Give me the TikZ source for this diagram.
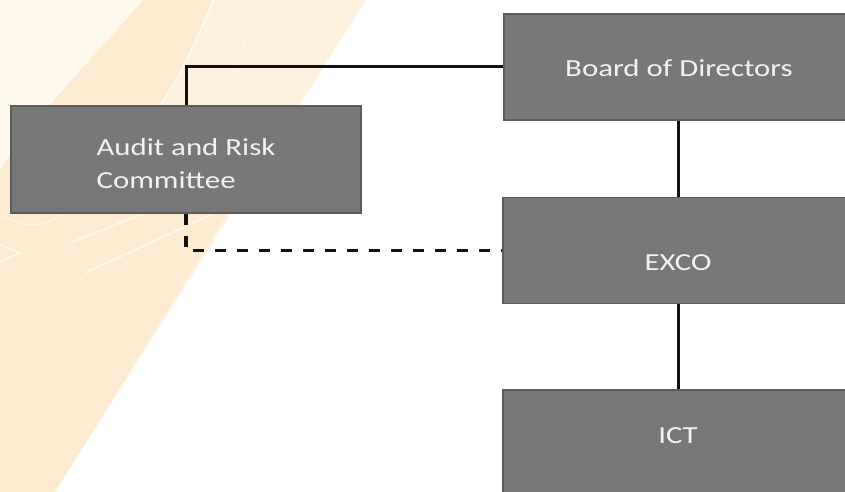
\documentclass[tikz,border=0pt]{standalone}
\usepackage{fontspec}
\setmainfont[FakeStretch=1.26]{Carlito}
\definecolor{boxfill}{HTML}{787878}
\definecolor{boxedge}{HTML}{5C5C5C}
\definecolor{boxtext}{HTML}{F2F2F2}
\definecolor{creamA}{HTML}{FEF1DD}
\definecolor{creamB}{HTML}{FFF8EC}
\definecolor{peach}{HTML}{FDEBD1}
\definecolor{linecol}{HTML}{111111}
\tikzset{
  orgbox/.style={draw=boxedge, line width=1.6bp, fill=boxfill, text=boxtext,
    minimum width=350bp, minimum height=106bp, inner sep=0pt,
    font=\fontsize{24.5bp}{33bp}\selectfont},
  link/.style={draw=linecol, line width=3bp},
  dashlink/.style={draw=linecol, line width=3.2bp, dash pattern=on 11bp off 11bp},
  swirl/.style={draw=white, line width=1.2bp, opacity=0.75}
}
\begin{document}
\begin{tikzpicture}[x=1bp,y=-1bp]
\useasboundingbox (0,0) rectangle (845,492);
\clip (0,0) rectangle (845,492);
\fill[white] (0,0) rectangle (845,492);
% background swoosh
\fill[creamA] (0,0) -- (366,0) -- (55,492) -- (0,492) -- cycle;
\fill[creamB] (0,0) -- (143,0) .. controls (110,40) and (40,110) .. (0,170) -- cycle;
\fill[peach] (0,170) .. controls (40,110) and (110,40) .. (143,0) -- (212,0)
  .. controls (195,45) and (175,85) .. (158,108) -- (292,108) -- (55,492) -- (0,492) -- cycle;
\draw[swirl] (213,0) .. controls (195,45) and (175,85) .. (157,110);
\draw[swirl, opacity=0.4] (252,0) .. controls (245,40) and (237,75) .. (230,105);
\draw[swirl] (0,245) -- (20,253) -- (0,262);
\draw[swirl] (70,243) -- (140,215);
\draw[swirl] (85,273) -- (215,213);
\draw[swirl, opacity=0.5] (0,215) .. controls (20,225) and (40,230) .. (60,215);
% boxes
\node[orgbox, text height=20bp, text depth=0pt] (board) at (679,67) {Board of Directors};
\node[orgbox, minimum height=107bp, align=left, text height=59bp] (audit) at (186,159.5) {Audit and Risk\\Committee};
\node[orgbox, text height=40bp, text depth=0pt] (exco) at (678,250.5) {EXCO};
\node[orgbox, text height=10bp, text depth=10bp] (ict) at (678,443) {ICT};
% connectors
\draw[link] (board.west) -| (audit.north);
\draw[link] (board.south -| 678,0) -- (exco.north);
\draw[link] (exco.south) -- (ict.north);
\draw[dashlink] (audit.south) |- (exco.west);
\end{tikzpicture}
\end{document}
